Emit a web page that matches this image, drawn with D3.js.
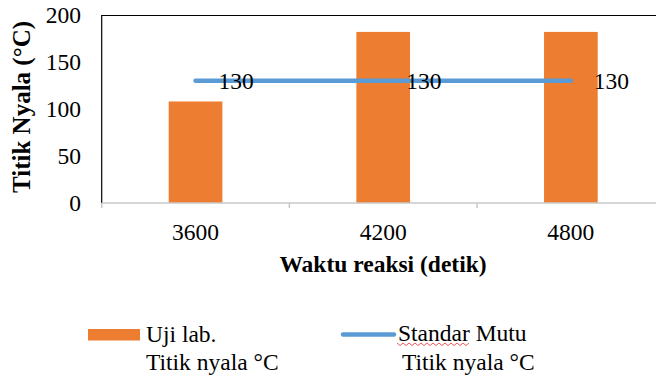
<!DOCTYPE html>
<html><head><meta charset="utf-8">
<script src="https://cdn.jsdelivr.net/npm/d3@7"></script>
<style>
html,body{margin:0;padding:0;background:#fff;overflow:hidden}
text{font-family:"Liberation Serif","Times New Roman",serif;fill:#000}
</style></head>
<body><svg id="c" width="656" height="378"></svg>
<script>
const categories = ["3600", "4200", "4800"];
const ujiLab = [108, 182, 182];
const standarMutu = [130, 130, 130];
const yTicks = [0, 50, 100, 150, 200];
const yTitle = "Titik Nyala (°C)";
const xTitle = "Waktu reaksi (detik)";
const legendLabels = [["Uji lab.", "Titik nyala °C"], ["Standar Mutu", "Titik nyala °C"]];

(function () {
const svg = d3.select("#c");
const pl = 101.7, pr = 664.7, pt = 15, pb = 203;
const x = d3.scaleBand().domain(categories).range([pl, pr]).padding(0);
const y = d3.scaleLinear().domain([0, 200]).range([pb, pt]);
const barW = x.bandwidth() * 0.286;
const cx = c => x(c) + x.bandwidth() / 2;

// bars
svg.append("g").selectAll("rect").data(categories).join("rect")
  .attr("x", d => cx(d) - barW / 2)
  .attr("y", (d, i) => y(ujiLab[i]))
  .attr("width", barW)
  .attr("height", (d, i) => y(0) - y(ujiLab[i]))
  .attr("fill", "#ED7D31");

// frame top & left
svg.append("line").attr("x1", pl).attr("x2", 656).attr("y1", pt + 0.5).attr("y2", pt + 0.5).attr("stroke", "#000").attr("stroke-width", 1.2);
svg.append("line").attr("x1", pl).attr("x2", pl).attr("y1", pt).attr("y2", pb).attr("stroke", "#000").attr("stroke-width", 1.2);

// x axis
const xa = svg.append("g").attr("transform", `translate(0,${pb})`);
xa.append("line").attr("x1", pl).attr("x2", 656).attr("stroke", "#c8c8c8").attr("stroke-width", 1.5);
const bounds = categories.map(c => x(c)).concat([x(categories[categories.length - 1]) + x.bandwidth()]);
xa.selectAll("line.t").data(bounds).join("line").attr("class", "t")
  .attr("x1", d => d).attr("x2", d => d).attr("y1", 0).attr("y2", 5)
  .attr("stroke", "#c8c8c8").attr("stroke-width", 1.5);
xa.selectAll("text").data(categories).join("text")
  .attr("x", d => cx(d)).attr("y", 37).attr("text-anchor", "middle")
  .style("font-size", "23.5px").text(d => d);

// y axis labels
svg.append("g").selectAll("text").data(yTicks).join("text")
  .attr("x", 81).attr("y", d => y(d)).attr("dy", "0.35em").attr("text-anchor", "end")
  .style("font-size", "23.5px").text(d => d);

// line series
const line = d3.line().x((d, i) => cx(categories[i])).y(d => y(d));
svg.append("path").datum(standarMutu).attr("d", line)
  .attr("fill", "none").attr("stroke", "#5B9BD5").attr("stroke-width", 4.5).attr("stroke-linecap", "round");
svg.append("g").selectAll("text").data(standarMutu).join("text")
  .attr("x", (d, i) => cx(categories[i]) + 23).attr("y", d => y(d)).attr("dy", "0.35em")
  .style("font-size", "23.5px").text(d => d);

// titles
svg.append("text").attr("transform", "translate(30,107) rotate(-90)").attr("text-anchor", "middle")
  .style("font-size", "25px").style("font-weight", "bold").text(yTitle);
svg.append("text").attr("x", 383).attr("y", 272).attr("text-anchor", "middle")
  .style("font-size", "23.5px").style("font-weight", "bold").text(xTitle);

// legend
const lg = svg.append("g");
lg.append("rect").attr("x", 88).attr("y", 329).attr("width", 52).attr("height", 11.5).attr("fill", "#ED7D31");
lg.append("text").attr("x", 146).attr("y", 341.5).style("font-size", "23.5px").text(legendLabels[0][0]);
lg.append("text").attr("x", 146).attr("y", 370).style("font-size", "23.5px").text(legendLabels[0][1]);
lg.append("line").attr("x1", 343).attr("x2", 394).attr("y1", 334.5).attr("y2", 334.5)
  .attr("stroke", "#5B9BD5").attr("stroke-width", 4.5).attr("stroke-linecap", "round");
lg.append("text").attr("x", 398).attr("y", 341).style("font-size", "23.5px").text(legendLabels[1][0]);
lg.append("text").attr("x", 402).attr("y", 370).style("font-size", "23.5px").text(legendLabels[1][1]);
// spell-check squiggle under "Standar"
let sq = "M397,343";
for (let k = 1; k <= 24; k++) sq += ` L${397 + k * 3},${k % 2 ? 345.5 : 343}`;
lg.append("path").attr("d", sq).attr("fill", "none").attr("stroke", "#e03030").attr("stroke-width", 0.8);
})();
</script></body></html>
